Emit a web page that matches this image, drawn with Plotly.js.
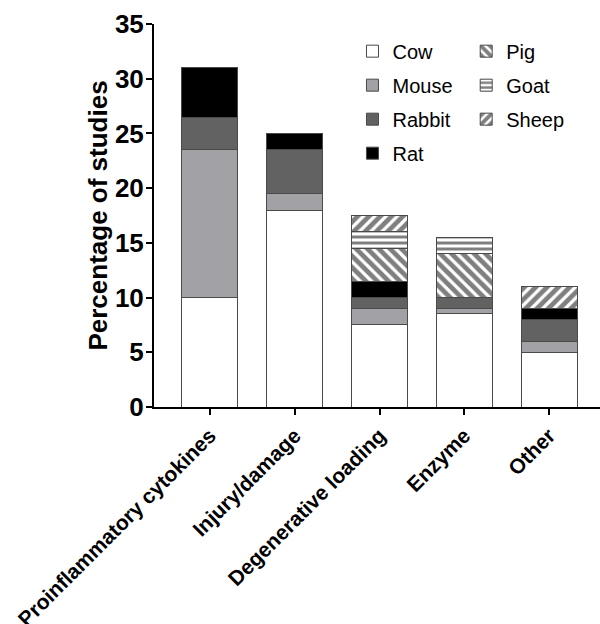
<!DOCTYPE html>
<html>
<head>
<meta charset="utf-8">
<script src="https://cdn.plot.ly/plotly-3.0.1.min.js"></script>
<style>html,body{margin:0;padding:0;background:#fff;}#chart{width:600px;height:624px;}</style>
</head>
<body>
<div id="chart"></div>
<script>
const categories = ['Proinflammatory cytokines', 'Injury/damage', 'Degenerative loading', 'Enzyme', 'Other'];
const cow    = [10, 18, 7.5, 8.5, 5];
const mouse  = [13.5, 1.5, 1.5, 0.5, 1];
const rabbit = [3, 4, 1, 1, 2];
const rat    = [4.5, 1.5, 1.5, 0, 1];
const pig    = [0, 0, 3, 4, 0];
const goat   = [0, 0, 1.5, 1.5, 0];
const sheep  = [0, 0, 1.5, 0, 2];
const yTicks = [0, 5, 10, 15, 20, 25, 30, 35];

const FONT = 'Arial, "Liberation Sans", sans-serif';
const line = {color: '#4a4a4a', width: 1};
const nz = a => a.map(v => (v === 0 ? null : v));

function solid(name, vals, color, legend) {
  return {type: 'bar', name: name, x: categories, y: nz(vals), width: 0.66,
    marker: {color: color, line: line}, legend: legend, legendgroup: name, hoverinfo: 'skip'};
}
function patt(name, vals, shape, size, solidity, legend) {
  return {type: 'bar', name: name, x: categories, y: nz(vals), width: 0.66,
    marker: {color: '#ffffff', line: line,
      pattern: {shape: shape, fgcolor: '#000000', bgcolor: '#ffffff', size: size, solidity: solidity, fillmode: 'overlay'}},
    legend: legend, legendgroup: name, hoverinfo: 'skip'};
}

const traces = [
  solid('Cow', cow, '#ffffff', 'legend'),
  solid('Mouse', mouse, '#a2a2a6', 'legend'),
  solid('Rabbit', rabbit, '#626262', 'legend'),
  solid('Rat', rat, '#000000', 'legend'),
  patt('Pig', pig, '\\', 8, 0.6, 'legend2'),
  patt('Goat', goat, '-', 6, 0.5, 'legend2'),
  patt('Sheep', sheep, '/', 8, 0.6, 'legend2')
];

const legBase = {
  font: {family: FONT, size: 20, color: '#000'},
  bgcolor: 'rgba(0,0,0,0)', borderwidth: 0,
  traceorder: 'grouped', tracegroupgap: 5,
  xanchor: 'left', yanchor: 'top', orientation: 'v'
};

const layout = {
  width: 600, height: 624,
  margin: {l: 154, r: 0, t: 24, b: 217},
  paper_bgcolor: '#fff', plot_bgcolor: '#fff',
  barmode: 'stack', bargap: 0.34,
  showlegend: true,
  legend: Object.assign({}, legBase, {x: 0.445, y: 0.98}),
  legend2: Object.assign({}, legBase, {x: 0.70, y: 0.98}),
  xaxis: {
    range: [-0.66, 4.6], showgrid: false, zeroline: false,
    showline: true, linecolor: '#000', linewidth: 2,
    ticks: 'outside', ticklen: 6, tickwidth: 2, tickcolor: '#000',
    tickangle: -45, automargin: false,
    tickfont: {family: FONT, size: 21, color: '#000', weight: 'bold'}
  },
  yaxis: {
    range: [0, 35], tickvals: yTicks, showgrid: false, zeroline: false,
    showline: true, linecolor: '#000', linewidth: 2,
    ticks: 'outside', ticklen: 6, tickwidth: 2, tickcolor: '#000',
    automargin: false, ticklabelstandoff: -3,
    tickfont: {family: FONT, size: 26, color: '#000', weight: 'bold'},
    title: {text: 'Percentage of studies', standoff: 0,
      font: {family: FONT, size: 26, color: '#000', weight: 'bold'}}
  }
};

Plotly.newPlot('chart', traces, layout, {staticPlot: true, displayModeBar: false});
</script>
</body>
</html>
